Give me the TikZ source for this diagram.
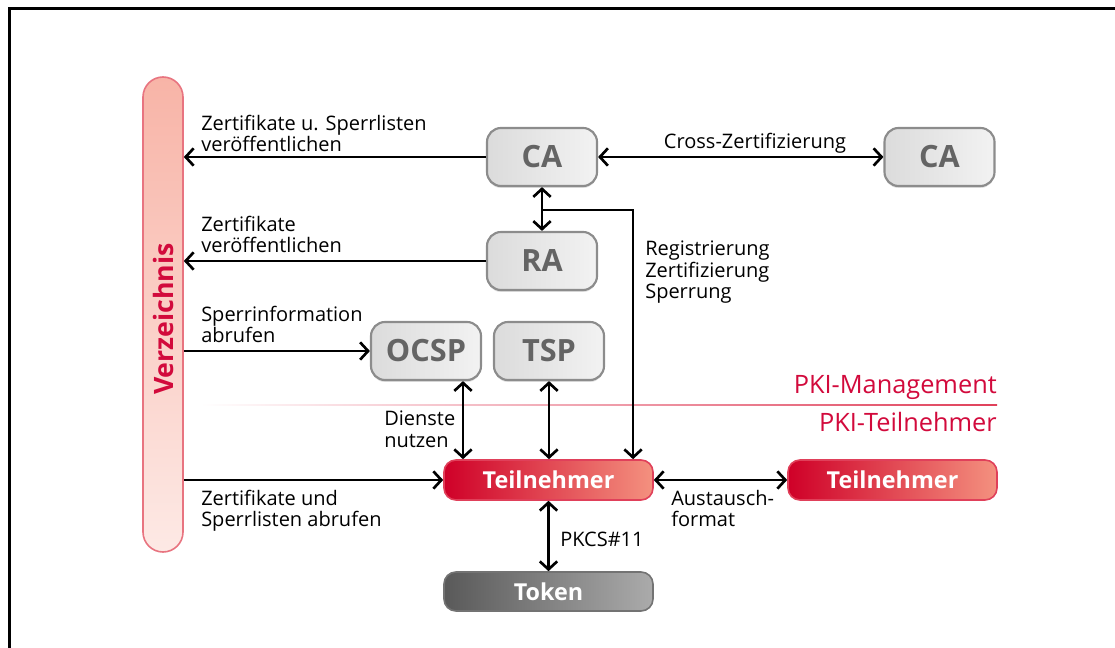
\documentclass[tikz,border=0pt]{standalone}
\usepackage{fontspec}
\setmainfont{Open Sans}
\usetikzlibrary{arrows.meta,shadows}
\definecolor{crim}{HTML}{D20A3C}
\definecolor{tred}{HTML}{CF0028}
\definecolor{tmid}{HTML}{D8163B}
\definecolor{tsal}{HTML}{F4917F}
\definecolor{tline}{HTML}{E0405A}
\definecolor{gbord}{HTML}{8C8C8C}
\definecolor{gtext}{HTML}{646464}
\definecolor{vtop}{HTML}{F8B4A7}
\definecolor{vbot}{HTML}{FDE9E5}
\definecolor{vbord}{HTML}{E87480}
\begin{document}
\begin{tikzpicture}[x=0.75pt,y=-0.75pt,
  graybox/.style={draw=gbord, line width=1.6pt, rounded corners=10.5pt,
    left color=black!14, middle color=white, right color=black!5,
    minimum width=82.5pt, minimum height=43.5pt, inner sep=0pt,
    font=\fontsize{23}{23}\bfseries\selectfont, text=gtext,
    drop shadow={shadow xshift=0pt, shadow yshift=-1.5pt, opacity=0.25}},
  redbox/.style={draw=tline, line width=1.2pt, rounded corners=9pt,
    left color=tred, middle color=tmid, right color=tsal,
    minimum width=156.75pt, minimum height=30pt, inner sep=0pt,
    font=\fontsize{17.5}{17.5}\bfseries\selectfont, text=white},
  tokbox/.style={draw=black!55, line width=1.2pt, rounded corners=9pt,
    left color=black!65, middle color=black!58, right color=black!33,
    minimum width=156.75pt, minimum height=29.25pt, inner sep=0pt,
    font=\fontsize{17.5}{17.5}\bfseries\selectfont, text=white},
  lbl/.style={font=\fontsize{15}{16}\selectfont, inner sep=0pt, align=left},
  pkil/.style={font=\fontsize{19}{19}\selectfont, text=crim, inner sep=0pt},
  arr/.style={line width=2pt, -{Straight Barb[length=6pt,width=13pt]}},
  darr/.style={line width=2pt, {Straight Barb[length=6pt,width=13pt]}-{Straight Barb[length=6pt,width=13pt]}}
]
\useasboundingbox (0,0) rectangle (1115,648);
% frame
\draw[line width=2.25pt] (9,649) -- (9,9) -- (1116,9);

% Verzeichnis
\node[draw=vbord, line width=1.2pt, rounded corners=15pt, top color=vtop, bottom color=vbot,
  minimum width=30pt, minimum height=356.25pt, inner sep=0pt] (Verz) at (163,314.5) {};
\node[rotate=90, font=\fontsize{20}{20}\bfseries\selectfont, text=crim, inner sep=0pt] (VerzT) at (163,319) {Verzeichnis};

% gray boxes
\node[graybox] (CA1) at (542,157) {CA};
\node[graybox] (CA2) at (939.5,157) {CA};
\node[graybox] (RA) at (542,261) {RA};
\node[graybox] (OCSP) at (426,351) {OCSP};
\node[graybox] (TSP) at (549,351) {TSP};

% red boxes
\node[redbox] (T1) at (548.5,480) {Teilnehmer};
\node[redbox] (T2) at (892.5,480) {Teilnehmer};
\node[tokbox] (Token) at (548.5,591.5) {Token};

% divider
\shade[left color=white, right color=tline] (200,404.3) rectangle (997,405.8);
\node[pkil, anchor=base east] (PM) at (997,394) {PKI-Management};
\node[pkil, anchor=base east] (PT) at (997,432) {PKI-Teilnehmer};

% connectors
\draw[arr] (CA1.west) -- (CA1.west -| Verz.east);
\draw[arr] (RA.west) -- (RA.west -| Verz.east);
\draw[arr] (Verz.east |- OCSP.west) -- (OCSP.west);
\draw[arr] (Verz.east |- T1.west) -- (T1.west);
\draw[darr] (CA1.east) -- (CA2.west);
\draw[darr] (CA1.south) -- coordinate[pos=0.52] (J) (RA.north);
\draw[arr] (J) -| ([xshift=63.4pt]T1.north);
\draw[darr] ([xshift=27.75pt]OCSP.south) -- ([xshift=27.75pt]OCSP.south |- T1.north);
\draw[darr] (TSP.south) -- (TSP.south |- T1.north);
\draw[darr] (T1.south) -- (Token.north);
\draw[darr] (T1.east) -- (T2.west);

% labels
\node[lbl, anchor=north west] (L1) at (201,115) {Zertifikate u. Sperrlisten\\veröffentlichen};
\node[lbl, anchor=north west] (L2) at (201,216) {Zertifikate\\veröffentlichen};
\node[lbl, anchor=north west] (L3) at (201,306) {Sperrinformation\\abrufen};
\node[lbl, anchor=north west] (L4) at (201,490) {Zertifikate und\\Sperrlisten abrufen};
\node[lbl, anchor=base] (L5) at (755,149) {Cross-Zertifizierung};
\node[lbl, anchor=north west] (L6) at (645,241) {Registrierung\\Zertifizierung\\Sperrung};
\node[lbl, anchor=north west] (L7) at (384,411) {Dienste\\nutzen};
\node[lbl, anchor=north west] (L8) at (671,490) {Austausch-\\format};
\node[lbl, anchor=base west] (L9) at (560,547) {PKCS\#11};
\end{tikzpicture}
\end{document}
